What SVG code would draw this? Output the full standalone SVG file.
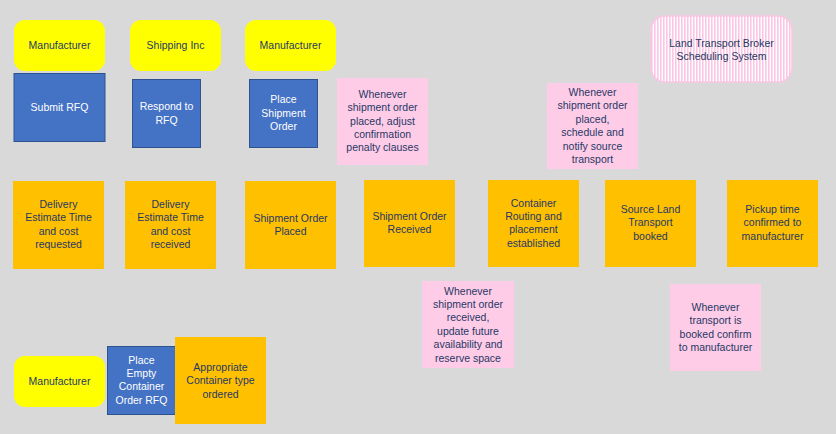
<svg xmlns="http://www.w3.org/2000/svg" width="836" height="434" viewBox="0 0 836 434">
<defs>
<pattern id="stripes" patternUnits="userSpaceOnUse" width="3" height="10">
<rect x="0" y="0" width="3" height="10" fill="#ffffff"/>
<rect x="0" y="0" width="1.6" height="10" fill="#fbc6e3"/>
</pattern>
<style>
text{font-family:"Liberation Sans",Arial,sans-serif;font-size:10.5px;text-anchor:middle;fill:#1f3864}
.actor{fill:#ffff00}
.cmd{fill:#4472c4;stroke:#2f528f;stroke-width:1}
.cmd+text,.w{fill:#ffffff}
.event{fill:#ffc000}
.note{fill:#ffcce8}
.sys{fill:url(#stripes);stroke:#fbc6e3;stroke-width:1.5}
</style>
</defs>
<rect x="0" y="0" width="836" height="434" fill="#d9d9d9"/>
<g id="connectors"></g>

<g id="actor-manufacturer-1"><rect class="actor" x="14" y="20" width="91" height="51" rx="11"/><text x="59.5" y="49">Manufacturer</text></g>
<g id="actor-shipping-inc"><rect class="actor" x="130" y="20" width="91" height="51" rx="11"/><text x="175.5" y="49">Shipping Inc</text></g>
<g id="actor-manufacturer-2"><rect class="actor" x="245" y="20" width="91" height="51" rx="11"/><text x="290.5" y="49">Manufacturer</text></g>
<g id="system-land-transport"><rect class="sys" x="651" y="16" width="141" height="66" rx="14"/><text x="721.5" y="47">Land Transport Broker</text><text x="721.5" y="60">Scheduling System</text></g>

<g id="cmd-submit-rfq"><rect class="cmd" x="14" y="73.5" width="91" height="68"/><text class="w" x="59.5" y="111">Submit RFQ</text></g>
<g id="cmd-respond-rfq"><rect class="cmd" x="132.5" y="79.5" width="68" height="68"/><text class="w" x="166.5" y="110">Respond to</text><text class="w" x="166.5" y="123.5">RFQ</text></g>
<g id="cmd-place-shipment-order"><rect class="cmd" x="249.5" y="79.5" width="68" height="68"/><text class="w" x="283.5" y="103">Place</text><text class="w" x="283.5" y="116.5">Shipment</text><text class="w" x="283.5" y="130">Order</text></g>

<g id="note-adjust-penalty"><rect class="note" x="337" y="78" width="91" height="87"/><text x="382.5" y="98">Whenever</text><text x="382.5" y="111.3">shipment order</text><text x="382.5" y="124.6">placed, adjust</text><text x="382.5" y="137.9">confirmation</text><text x="382.5" y="151.2">penalty clauses</text></g>
<g id="note-schedule-transport"><rect class="note" x="547" y="83" width="91" height="86"/><text x="592.5" y="96">Whenever</text><text x="592.5" y="109.4">shipment order</text><text x="592.5" y="122.8">placed,</text><text x="592.5" y="136.2">schedule and</text><text x="592.5" y="149.6">notify source</text><text x="592.5" y="163">transport</text></g>

<g id="event-delivery-requested"><rect class="event" x="13" y="181" width="91" height="88"/><text x="58.5" y="208">Delivery</text><text x="58.5" y="221.4">Estimate Time</text><text x="58.5" y="234.8">and cost</text><text x="58.5" y="248.2">requested</text></g>
<g id="event-delivery-received"><rect class="event" x="125" y="181" width="91" height="88"/><text x="170.5" y="208">Delivery</text><text x="170.5" y="221.4">Estimate Time</text><text x="170.5" y="234.8">and cost</text><text x="170.5" y="248.2">received</text></g>
<g id="event-shipment-placed"><rect class="event" x="245" y="181" width="91" height="88"/><text x="290.5" y="221.5">Shipment Order</text><text x="290.5" y="234.9">Placed</text></g>
<g id="event-shipment-received"><rect class="event" x="364" y="180" width="91" height="87"/><text x="409.5" y="219.5">Shipment Order</text><text x="409.5" y="232.9">Received</text></g>
<g id="event-container-routing"><rect class="event" x="488" y="180" width="91" height="87"/><text x="533.5" y="206.5">Container</text><text x="533.5" y="219.9">Routing and</text><text x="533.5" y="233.3">placement</text><text x="533.5" y="246.7">established</text></g>
<g id="event-source-land-booked"><rect class="event" x="605" y="180" width="91" height="87"/><text x="650.5" y="213">Source Land</text><text x="650.5" y="226.4">Transport</text><text x="650.5" y="239.8">booked</text></g>
<g id="event-pickup-confirmed"><rect class="event" x="727" y="180" width="91" height="87"/><text x="772.5" y="213">Pickup time</text><text x="772.5" y="226.4">confirmed to</text><text x="772.5" y="239.8">manufacturer</text></g>

<g id="note-update-availability"><rect class="note" x="422" y="281" width="92" height="87"/><text x="468" y="294.5">Whenever</text><text x="468" y="307.9">shipment order</text><text x="468" y="321.3">received,</text><text x="468" y="334.7">update future</text><text x="468" y="348.1">availability and</text><text x="468" y="361.5">reserve space</text></g>
<g id="note-confirm-manufacturer"><rect class="note" x="670" y="284" width="91" height="87"/><text x="715.5" y="311">Whenever</text><text x="715.5" y="324.4">transport is</text><text x="715.5" y="337.8">booked confirm</text><text x="715.5" y="351.2">to manufacturer</text></g>

<g id="actor-manufacturer-3"><rect class="actor" x="14" y="356" width="91" height="51" rx="11"/><text x="59.5" y="385">Manufacturer</text></g>
<g id="cmd-place-empty-container"><rect class="cmd" x="107.5" y="346.5" width="68" height="68"/><text class="w" x="141.5" y="363.5">Place</text><text class="w" x="141.5" y="376.9">Empty</text><text class="w" x="141.5" y="390.3">Container</text><text class="w" x="141.5" y="403.7">Order RFQ</text></g>
<g id="event-container-ordered"><rect class="event" x="175" y="337" width="91" height="87"/><text x="220.5" y="371">Appropriate</text><text x="220.5" y="384.4">Container type</text><text x="220.5" y="397.8">ordered</text></g>
</svg>
